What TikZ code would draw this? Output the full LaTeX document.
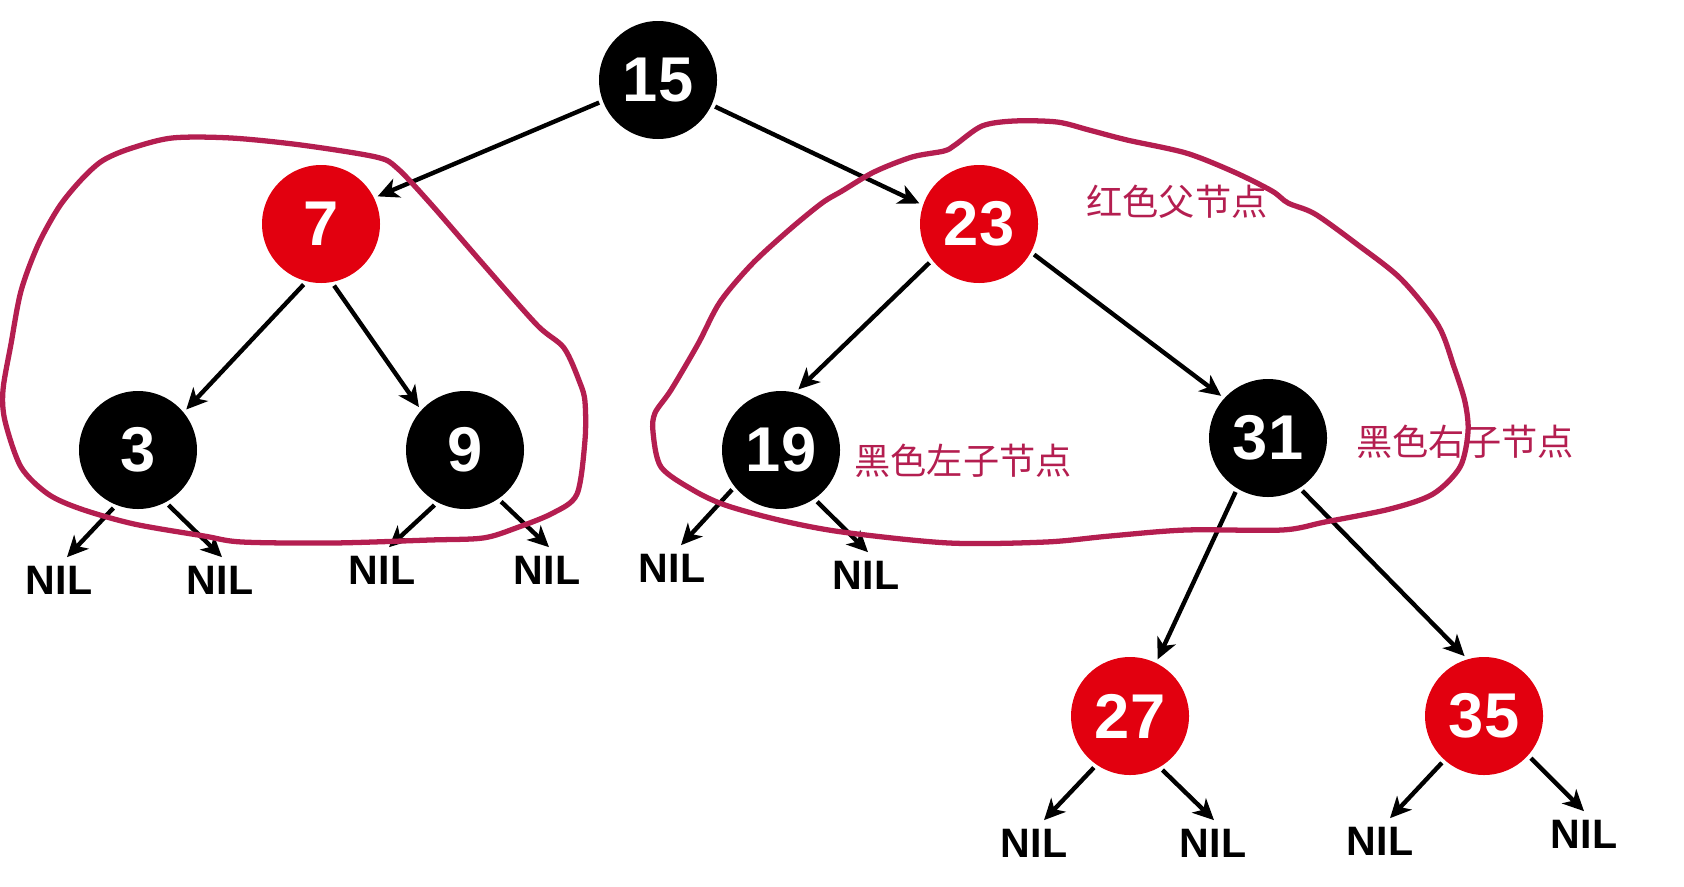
\documentclass[tikz,border=0pt]{standalone}
\usepackage{fontspec}
\setmainfont{Liberation Sans}
\newfontfamily\cjkfont{Noto Sans CJK SC}
\usetikzlibrary{arrows.meta}

\definecolor{rbred}{HTML}{E2000F}
\definecolor{markpen}{HTML}{B41E50}

\begin{document}
\begin{tikzpicture}[
    rbnode/.style={circle, minimum size=1.18cm, inner sep=0pt, outer sep=0.04cm, text=white, font=\fontsize{18}{19}\selectfont\bfseries},
    blacknode/.style={rbnode, fill=black},
    rednode/.style={rbnode, fill=rbred},
    nilnode/.style={inner sep=0.08cm, font=\fontsize{11.7}{12}\selectfont\bfseries},
    remark/.style={text=markpen, inner sep=0pt, font=\fontsize{10.3}{11}\selectfont\cjkfont},
    arrow/.style={-{Stealth[length=2.1mm, width=2mm, inset=0.6mm]}, line width=1.25pt},
    penloop/.style={draw=markpen, line width=1.5pt},
]

\useasboundingbox (0,0) rectangle (16.84,-8.86);

% tree nodes
\node[blacknode] (n15) at (6.58,-0.80) {15};
\node[rednode] (n7) at (3.21,-2.24) {7};
\node[rednode] (n23) at (9.79,-2.24) {23};
\node[blacknode] (n3) at (1.38,-4.50) {3};
\node[blacknode] (n9) at (4.65,-4.50) {9};
\node[blacknode] (n19) at (7.81,-4.50) {19};
\node[blacknode] (n31) at (12.68,-4.38) {31};
\node[rednode] (n27) at (11.30,-7.16) {27};
\node[rednode] (n35) at (14.84,-7.16) {35};

% leaves
\node[nilnode] (l3a) at (0.59,-5.80) {NIL};
\node[nilnode] (l3b) at (2.20,-5.80) {NIL};
\node[nilnode] (l9a) at (3.82,-5.70) {NIL};
\node[nilnode] (l9b) at (5.47,-5.70) {NIL};
\node[nilnode] (l19a) at (6.72,-5.68) {NIL};
\node[nilnode] (l19b) at (8.66,-5.75) {NIL};
\node[nilnode] (l27a) at (10.34,-8.43) {NIL};
\node[nilnode] (l27b) at (12.13,-8.43) {NIL};
\node[nilnode] (l35a) at (13.80,-8.41) {NIL};
\node[nilnode] (l35b) at (15.84,-8.34) {NIL};

% edges
\draw[arrow] (n15.201) -- (n7.26);
\draw[arrow] (n15.335) -- (n23.161);
\draw[arrow] (n7.254) -- (n3.40);
\draw[arrow] (n7.282) -- (n9.137);
\draw[arrow] (n23.218) -- (n19.74);
\draw[arrow] (n23.331) -- (n31.138);
\draw[arrow] (n31.239) -- (n27.64);
\draw[arrow] (n31.303) -- (n35.108);

\draw[arrow] (n3.247) -- ([xshift=0.08cm]l3a.north);
\draw[arrow] (n3.299) -- ([xshift=0.02cm]l3b.north);
\draw[arrow] (n9.241) -- ([xshift=0.07cm]l9a.north);
\draw[arrow] (n9.305) -- ([xshift=0.02cm]l9b.north);
\draw[arrow] (n19.219) -- ([xshift=0.09cm]l19a.north);
\draw[arrow] (n19.305) -- ([xshift=0.02cm]l19b.north);
\draw[arrow] (n27.235) -- ([xshift=0.1cm]l27a.north);
\draw[arrow] (n27.301) -- ([xshift=0.01cm]l27b.north);
\draw[arrow] (n35.228) -- ([xshift=0.1cm]l35a.north);
\draw[arrow] (n35.318) -- (l35b.north);

% hand drawn marks
\draw[penloop] plot[smooth cycle, tension=0.5] coordinates {
    (1.72,-1.38) (2.31,-1.38) (3.01,-1.45) (3.76,-1.57) (3.97,-1.68)
    (4.30,-2.03) (4.83,-2.64) (5.37,-3.25) (5.64,-3.48) (5.80,-3.83)
    (5.85,-4.02) (5.85,-4.40) (5.77,-4.94) (5.53,-5.13) (5.16,-5.28)
    (4.83,-5.38) (4.30,-5.40) (3.33,-5.43) (2.42,-5.42) (2.04,-5.36)
    (1.34,-5.24) (0.81,-5.09) (0.48,-4.94) (0.21,-4.67) (0.05,-4.21)
    (0.03,-3.90) (0.11,-3.44) (0.21,-2.91) (0.38,-2.45) (0.59,-2.07)
    (0.81,-1.80) (1.02,-1.61) (1.29,-1.49)};
\draw[penloop] plot[smooth cycle, tension=0.5] coordinates {
    (8.42,-1.91) (8.74,-1.72) (9.12,-1.57) (9.44,-1.51) (9.55,-1.45)
    (9.82,-1.26) (10.14,-1.21) (10.57,-1.22) (10.89,-1.30) (11.27,-1.40)
    (11.86,-1.53) (12.34,-1.72) (12.72,-1.91) (12.88,-2.03) (13.15,-2.14)
    (13.58,-2.45) (14.01,-2.79) (14.38,-3.25) (14.54,-3.67) (14.65,-4.02)
    (14.68,-4.32) (14.60,-4.67) (14.33,-4.94) (13.90,-5.09) (13.25,-5.22)
    (12.82,-5.30) (11.86,-5.30) (11.10,-5.36) (10.46,-5.42) (9.49,-5.43)
    (8.42,-5.32) (7.79,-5.20) (7.25,-5.05) (6.93,-4.90) (6.61,-4.67)
    (6.53,-4.32) (6.55,-4.13) (6.71,-3.90) (6.98,-3.44) (7.20,-3.02)
    (7.52,-2.64) (7.89,-2.30) (8.22,-2.03)};

% remarks
\node[remark] (redparent) at (11.77,-2.02) {红色父节点};
\node[remark] (blackleft) at (9.63,-4.61) {黑色左子节点};
\node[remark] (blackright) at (14.65,-4.42) {黑色右子节点};

\end{tikzpicture}
\end{document}
